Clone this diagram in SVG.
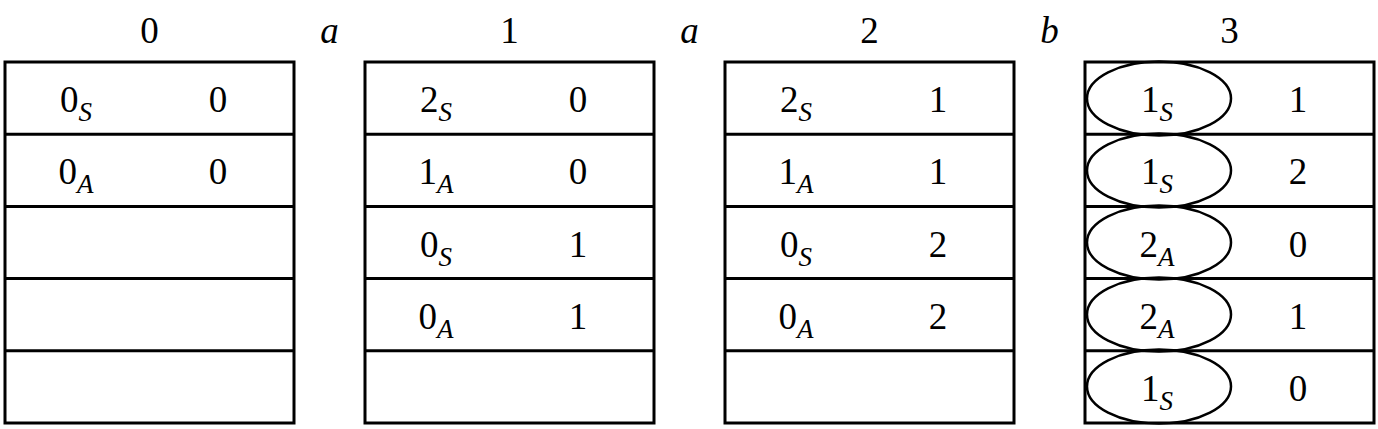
<svg xmlns="http://www.w3.org/2000/svg" width="1378" height="429" viewBox="0 0 1378 429">
<style>
.box{fill:#fff;stroke:#000;stroke-width:3}
.ln{stroke:#000;stroke-width:3}
.el{fill:none;stroke:#000;stroke-width:2.5}
</style>
<rect width="1378" height="429" fill="#fff"/>
<g id="labels" text-anchor="middle" fill="#000">
<text x="149.5" y="43" font-family="Liberation Serif" font-size="37" style="font-family:'Liberation Serif',serif;font-size:37px">0</text>
<text x="509.5" y="43" font-family="Liberation Serif" font-size="37" style="font-family:'Liberation Serif',serif;font-size:37px">1</text>
<text x="869.5" y="43" font-family="Liberation Serif" font-size="37" style="font-family:'Liberation Serif',serif;font-size:37px">2</text>
<text x="1229.5" y="43" font-family="Liberation Serif" font-size="37" style="font-family:'Liberation Serif',serif;font-size:37px">3</text>
<text x="329.5" y="43" font-family="Liberation Serif" font-size="37" font-style="italic" style="font-family:'Liberation Serif',serif;font-size:37px;font-style:italic">a</text>
<text x="689.5" y="43" font-family="Liberation Serif" font-size="37" font-style="italic" style="font-family:'Liberation Serif',serif;font-size:37px;font-style:italic">a</text>
<text x="1049.5" y="43" font-family="Liberation Serif" font-size="37" font-style="italic" style="font-family:'Liberation Serif',serif;font-size:37px;font-style:italic">b</text>
</g>
<g id="table0">
<rect class="box" x="5" y="62" width="289" height="361"/>
<line class="ln" x1="5" y1="134.2" x2="294" y2="134.2"/>
<line class="ln" x1="5" y1="206.4" x2="294" y2="206.4"/>
<line class="ln" x1="5" y1="278.6" x2="294" y2="278.6"/>
<line class="ln" x1="5" y1="350.8" x2="294" y2="350.8"/>
<g text-anchor="middle" fill="#000">
<text x="76" y="112" font-family="Liberation Serif" font-size="37" style="font-family:'Liberation Serif',serif;font-size:37px">0<tspan dy="9" font-size="27" font-style="italic" style="font-size:27px;font-style:italic">S</tspan></text>
<text x="218" y="112" font-family="Liberation Serif" font-size="37" style="font-family:'Liberation Serif',serif;font-size:37px">0</text>
<text x="76" y="184" font-family="Liberation Serif" font-size="37" style="font-family:'Liberation Serif',serif;font-size:37px">0<tspan dy="9" font-size="27" font-style="italic" style="font-size:27px;font-style:italic">A</tspan></text>
<text x="218" y="184" font-family="Liberation Serif" font-size="37" style="font-family:'Liberation Serif',serif;font-size:37px">0</text>
</g>
</g>
<g id="table1">
<rect class="box" x="365" y="62" width="289" height="361"/>
<line class="ln" x1="365" y1="134.2" x2="654" y2="134.2"/>
<line class="ln" x1="365" y1="206.4" x2="654" y2="206.4"/>
<line class="ln" x1="365" y1="278.6" x2="654" y2="278.6"/>
<line class="ln" x1="365" y1="350.8" x2="654" y2="350.8"/>
<g text-anchor="middle" fill="#000">
<text x="436" y="112" font-family="Liberation Serif" font-size="37" style="font-family:'Liberation Serif',serif;font-size:37px">2<tspan dy="9" font-size="27" font-style="italic" style="font-size:27px;font-style:italic">S</tspan></text>
<text x="578" y="112" font-family="Liberation Serif" font-size="37" style="font-family:'Liberation Serif',serif;font-size:37px">0</text>
<text x="436" y="184" font-family="Liberation Serif" font-size="37" style="font-family:'Liberation Serif',serif;font-size:37px">1<tspan dy="9" font-size="27" font-style="italic" style="font-size:27px;font-style:italic">A</tspan></text>
<text x="578" y="184" font-family="Liberation Serif" font-size="37" style="font-family:'Liberation Serif',serif;font-size:37px">0</text>
<text x="436" y="257" font-family="Liberation Serif" font-size="37" style="font-family:'Liberation Serif',serif;font-size:37px">0<tspan dy="9" font-size="27" font-style="italic" style="font-size:27px;font-style:italic">S</tspan></text>
<text x="578" y="257" font-family="Liberation Serif" font-size="37" style="font-family:'Liberation Serif',serif;font-size:37px">1</text>
<text x="436" y="329" font-family="Liberation Serif" font-size="37" style="font-family:'Liberation Serif',serif;font-size:37px">0<tspan dy="9" font-size="27" font-style="italic" style="font-size:27px;font-style:italic">A</tspan></text>
<text x="578" y="329" font-family="Liberation Serif" font-size="37" style="font-family:'Liberation Serif',serif;font-size:37px">1</text>
</g>
</g>
<g id="table2">
<rect class="box" x="725" y="62" width="289" height="361"/>
<line class="ln" x1="725" y1="134.2" x2="1014" y2="134.2"/>
<line class="ln" x1="725" y1="206.4" x2="1014" y2="206.4"/>
<line class="ln" x1="725" y1="278.6" x2="1014" y2="278.6"/>
<line class="ln" x1="725" y1="350.8" x2="1014" y2="350.8"/>
<g text-anchor="middle" fill="#000">
<text x="796" y="112" font-family="Liberation Serif" font-size="37" style="font-family:'Liberation Serif',serif;font-size:37px">2<tspan dy="9" font-size="27" font-style="italic" style="font-size:27px;font-style:italic">S</tspan></text>
<text x="938" y="112" font-family="Liberation Serif" font-size="37" style="font-family:'Liberation Serif',serif;font-size:37px">1</text>
<text x="796" y="184" font-family="Liberation Serif" font-size="37" style="font-family:'Liberation Serif',serif;font-size:37px">1<tspan dy="9" font-size="27" font-style="italic" style="font-size:27px;font-style:italic">A</tspan></text>
<text x="938" y="184" font-family="Liberation Serif" font-size="37" style="font-family:'Liberation Serif',serif;font-size:37px">1</text>
<text x="796" y="257" font-family="Liberation Serif" font-size="37" style="font-family:'Liberation Serif',serif;font-size:37px">0<tspan dy="9" font-size="27" font-style="italic" style="font-size:27px;font-style:italic">S</tspan></text>
<text x="938" y="257" font-family="Liberation Serif" font-size="37" style="font-family:'Liberation Serif',serif;font-size:37px">2</text>
<text x="796" y="329" font-family="Liberation Serif" font-size="37" style="font-family:'Liberation Serif',serif;font-size:37px">0<tspan dy="9" font-size="27" font-style="italic" style="font-size:27px;font-style:italic">A</tspan></text>
<text x="938" y="329" font-family="Liberation Serif" font-size="37" style="font-family:'Liberation Serif',serif;font-size:37px">2</text>
</g>
</g>
<g id="table3">
<rect class="box" x="1085" y="62" width="289" height="361"/>
<line class="ln" x1="1085" y1="134.2" x2="1374" y2="134.2"/>
<line class="ln" x1="1085" y1="206.4" x2="1374" y2="206.4"/>
<line class="ln" x1="1085" y1="278.6" x2="1374" y2="278.6"/>
<line class="ln" x1="1085" y1="350.8" x2="1374" y2="350.8"/>
<ellipse class="el" cx="1159" cy="98.5" rx="72" ry="37"/>
<ellipse class="el" cx="1159" cy="170.5" rx="72" ry="37"/>
<ellipse class="el" cx="1159" cy="242.5" rx="72" ry="37"/>
<ellipse class="el" cx="1159" cy="314.5" rx="72" ry="37"/>
<ellipse class="el" cx="1159" cy="386.5" rx="72" ry="37"/>
<g text-anchor="middle" fill="#000">
<text x="1157" y="112" font-family="Liberation Serif" font-size="37" style="font-family:'Liberation Serif',serif;font-size:37px">1<tspan dy="9" font-size="27" font-style="italic" style="font-size:27px;font-style:italic">S</tspan></text>
<text x="1298" y="112" font-family="Liberation Serif" font-size="37" style="font-family:'Liberation Serif',serif;font-size:37px">1</text>
<text x="1157" y="184" font-family="Liberation Serif" font-size="37" style="font-family:'Liberation Serif',serif;font-size:37px">1<tspan dy="9" font-size="27" font-style="italic" style="font-size:27px;font-style:italic">S</tspan></text>
<text x="1298" y="184" font-family="Liberation Serif" font-size="37" style="font-family:'Liberation Serif',serif;font-size:37px">2</text>
<text x="1157" y="257" font-family="Liberation Serif" font-size="37" style="font-family:'Liberation Serif',serif;font-size:37px">2<tspan dy="9" font-size="27" font-style="italic" style="font-size:27px;font-style:italic">A</tspan></text>
<text x="1298" y="257" font-family="Liberation Serif" font-size="37" style="font-family:'Liberation Serif',serif;font-size:37px">0</text>
<text x="1157" y="329" font-family="Liberation Serif" font-size="37" style="font-family:'Liberation Serif',serif;font-size:37px">2<tspan dy="9" font-size="27" font-style="italic" style="font-size:27px;font-style:italic">A</tspan></text>
<text x="1298" y="329" font-family="Liberation Serif" font-size="37" style="font-family:'Liberation Serif',serif;font-size:37px">1</text>
<text x="1157" y="401" font-family="Liberation Serif" font-size="37" style="font-family:'Liberation Serif',serif;font-size:37px">1<tspan dy="9" font-size="27" font-style="italic" style="font-size:27px;font-style:italic">S</tspan></text>
<text x="1298" y="401" font-family="Liberation Serif" font-size="37" style="font-family:'Liberation Serif',serif;font-size:37px">0</text>
</g>
</g>
</svg>
